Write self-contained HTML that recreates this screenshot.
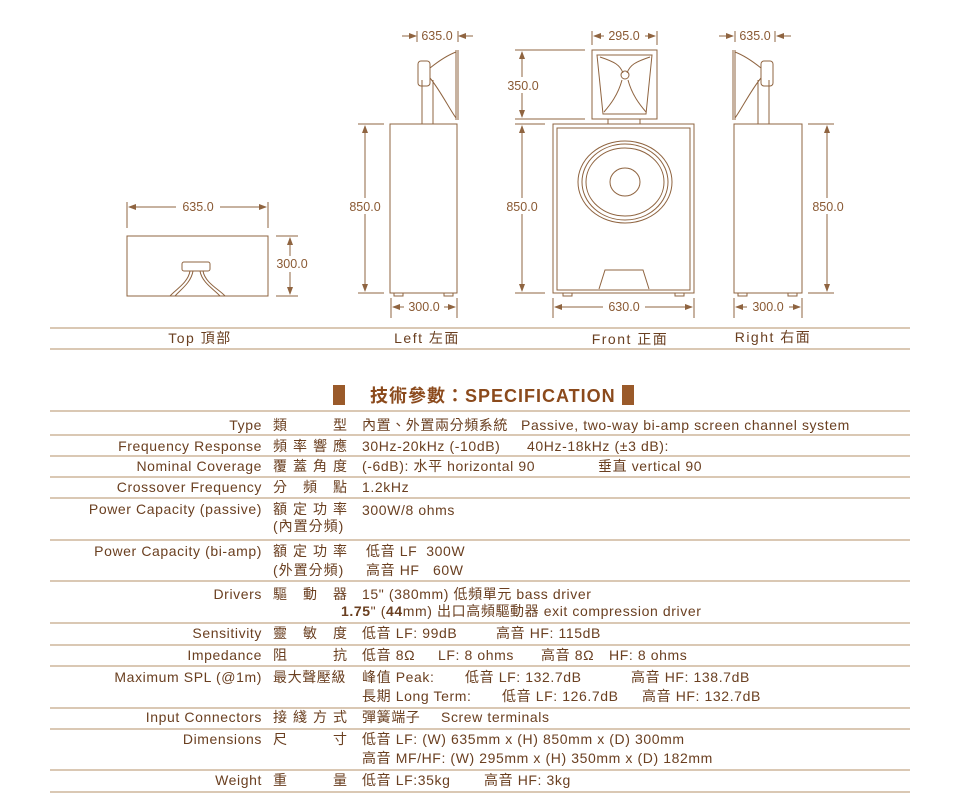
<!DOCTYPE html>
<html><head><meta charset="utf-8"><style>
body{margin:0;background:#fff}
svg{display:block}
text{font-family:"Liberation Sans","Noto Sans CJK TC",sans-serif;fill:#6a3f20;font-size:14px;letter-spacing:0.6px;white-space:pre}
.d{font-size:12.5px;fill:#8a5a34;letter-spacing:0}
.l{fill:none;stroke:#8f6440;stroke-width:1}
.t{stroke:#c4a886;stroke-width:1.2}
</style></head><body>
<svg width="960" height="803" viewBox="0 0 960 803" xmlns="http://www.w3.org/2000/svg" xml:space="preserve">
<defs><marker id="a" markerWidth="8" markerHeight="6" refX="7" refY="3" orient="auto-start-reverse"><path d="M0,0 L8,3 L0,6 z" fill="#8f6440"/></marker></defs>
<rect class="l" x="127" y="236" width="141" height="60"/>
<rect class="l" x="182" y="262" width="28" height="9" rx="2"/>
<path class="l" d="M190,271 C188,283 175,290 170,296 M193,271 C191,283 180,290 175,296 M200,271 C202,283 215,290 220,296 M203,271 C205,283 220,290 225,296"/>
<line class="l" x1="127" y1="202" x2="127" y2="228"/><line class="l" x1="268" y1="202" x2="268" y2="228"/>
<line class="l" x1="129" y1="207" x2="176" y2="207" marker-start="url(#a)"/><line class="l" x1="220" y1="207" x2="266" y2="207" marker-end="url(#a)"/>
<text class="d" x="198" y="211" text-anchor="middle">635.0</text>
<line class="l" x1="276" y1="236" x2="298" y2="236"/><line class="l" x1="276" y1="296" x2="298" y2="296"/>
<line class="l" x1="290" y1="238" x2="290" y2="256" marker-start="url(#a)"/><line class="l" x1="290" y1="272" x2="290" y2="294" marker-end="url(#a)"/>
<text class="d" x="292" y="268" text-anchor="middle">300.0</text>
<rect class="l" x="390" y="124" width="67" height="169"/>
<rect class="l" x="394" y="293" width="9" height="3"/><rect class="l" x="444" y="293" width="9" height="3"/>
<path class="l" d="M422,124 V80 M433,124 V80"/>
<rect class="l" x="418" y="61" width="12" height="25" rx="3"/>
<path class="l" d="M430,68 C440,60 448,55 456,52 M430,78 C440,90 450,110 456,118 M456,50 V120 M458,50 V120"/>
<line class="l" x1="417" y1="31" x2="417" y2="42"/><line class="l" x1="458" y1="31" x2="458" y2="42"/>
<line class="l" x1="402" y1="36" x2="416" y2="36" marker-end="url(#a)"/><line class="l" x1="473" y1="36" x2="459" y2="36" marker-end="url(#a)"/>
<text class="d" x="437" y="40" text-anchor="middle">635.0</text>
<line class="l" x1="358" y1="124" x2="384" y2="124"/><line class="l" x1="358" y1="293" x2="384" y2="293"/>
<line class="l" x1="365" y1="126" x2="365" y2="198" marker-start="url(#a)"/><line class="l" x1="365" y1="214" x2="365" y2="291" marker-end="url(#a)"/>
<text class="d" x="365" y="211" text-anchor="middle">850.0</text>
<line class="l" x1="391" y1="298" x2="391" y2="318"/><line class="l" x1="457" y1="298" x2="457" y2="318"/>
<line class="l" x1="393" y1="307" x2="404" y2="307" marker-start="url(#a)"/><line class="l" x1="444" y1="307" x2="455" y2="307" marker-end="url(#a)"/>
<text class="d" x="424" y="311" text-anchor="middle">300.0</text>
<rect class="l" x="553" y="124" width="141" height="169"/>
<rect class="l" x="557" y="128" width="133" height="162"/>
<rect class="l" x="563" y="293" width="9" height="3"/><rect class="l" x="675" y="293" width="9" height="3"/>
<ellipse class="l" cx="625" cy="182" rx="47" ry="41"/>
<ellipse class="l" cx="625" cy="182" rx="43" ry="38" stroke-width="2"/>
<ellipse class="l" cx="625" cy="182" rx="39" ry="34"/>
<ellipse class="l" cx="625" cy="182" rx="15" ry="14"/>
<path class="l" d="M599,289 L605,270 H643 L649,289"/>
<rect class="l" x="592" y="50" width="65" height="69"/>
<path class="l" d="M597,55 H652 L646,114 H603 Z"/>
<path class="l" d="M600,57 C615,62 620,65 623,73 M650,57 C635,62 630,65 627,73 M622,80 C618,95 610,105 604,112 M628,80 C632,95 640,105 646,112"/>
<circle class="l" cx="625" cy="75" r="4"/>
<rect class="l" x="608" y="119" width="32" height="5"/>
<line class="l" x1="592" y1="31" x2="592" y2="45"/><line class="l" x1="657" y1="31" x2="657" y2="45"/>
<line class="l" x1="594" y1="36" x2="604" y2="36" marker-start="url(#a)"/><line class="l" x1="645" y1="36" x2="655" y2="36" marker-end="url(#a)"/>
<text class="d" x="624" y="40" text-anchor="middle">295.0</text>
<line class="l" x1="515" y1="50" x2="585" y2="50"/><line class="l" x1="515" y1="119" x2="585" y2="119"/>
<line class="l" x1="522" y1="52" x2="522" y2="77" marker-start="url(#a)"/><line class="l" x1="522" y1="93" x2="522" y2="117" marker-end="url(#a)"/>
<text class="d" x="523" y="90" text-anchor="middle">350.0</text>
<line class="l" x1="515" y1="124" x2="545" y2="124"/><line class="l" x1="515" y1="293" x2="545" y2="293"/>
<line class="l" x1="522" y1="126" x2="522" y2="198" marker-start="url(#a)"/><line class="l" x1="522" y1="214" x2="522" y2="291" marker-end="url(#a)"/>
<text class="d" x="522" y="211" text-anchor="middle">850.0</text>
<line class="l" x1="553" y1="298" x2="553" y2="318"/><line class="l" x1="694" y1="298" x2="694" y2="318"/>
<line class="l" x1="555" y1="307" x2="603" y2="307" marker-start="url(#a)"/><line class="l" x1="645" y1="307" x2="692" y2="307" marker-end="url(#a)"/>
<text class="d" x="624" y="311" text-anchor="middle">630.0</text>
<rect class="l" x="734" y="124" width="68" height="169"/>
<rect class="l" x="738" y="293" width="9" height="3"/><rect class="l" x="788" y="293" width="9" height="3"/>
<path class="l" d="M758,124 V80 M769,124 V80"/>
<rect class="l" x="761" y="61" width="12" height="25" rx="3"/>
<path class="l" d="M761,68 C751,60 743,55 735,52 M761,78 C751,90 741,110 735,118 M735,50 V120 M733,50 V120"/>
<line class="l" x1="735" y1="31" x2="735" y2="42"/><line class="l" x1="775" y1="31" x2="775" y2="42"/>
<line class="l" x1="719" y1="36" x2="733" y2="36" marker-end="url(#a)"/><line class="l" x1="791" y1="36" x2="777" y2="36" marker-end="url(#a)"/>
<text class="d" x="755" y="40" text-anchor="middle">635.0</text>
<line class="l" x1="808" y1="124" x2="834" y2="124"/><line class="l" x1="808" y1="293" x2="834" y2="293"/>
<line class="l" x1="827" y1="126" x2="827" y2="198" marker-start="url(#a)"/><line class="l" x1="827" y1="214" x2="827" y2="291" marker-end="url(#a)"/>
<text class="d" x="828" y="211" text-anchor="middle">850.0</text>
<line class="l" x1="734" y1="298" x2="734" y2="318"/><line class="l" x1="802" y1="298" x2="802" y2="318"/>
<line class="l" x1="736" y1="307" x2="747" y2="307" marker-start="url(#a)"/><line class="l" x1="789" y1="307" x2="800" y2="307" marker-end="url(#a)"/>
<text class="d" x="768" y="311" text-anchor="middle">300.0</text>
<line class="t" x1="50" y1="328" x2="910" y2="328"/><line class="t" x1="50" y1="349" x2="910" y2="349"/>
<text x="200" y="343" text-anchor="middle" style="letter-spacing:1.5px">Top 頂部</text>
<text x="427" y="343" text-anchor="middle" style="letter-spacing:1.5px">Left 左面</text>
<text x="630" y="344" text-anchor="middle" style="letter-spacing:1.5px">Front 正面</text>
<text x="773" y="342" text-anchor="middle" style="letter-spacing:1.5px">Right 右面</text>
<rect x="333" y="385" width="12" height="20" fill="#9a5a2a"/><rect x="622" y="385" width="12" height="20" fill="#9a5a2a"/>
<text x="370" y="402" style="font-size:18px;font-weight:bold;fill:#8b4a1c;letter-spacing:1px">技術參數：SPECIFICATION</text>
<g class="t">
<line x1="50" y1="411" x2="910" y2="411"/><line x1="50" y1="435" x2="910" y2="435"/><line x1="50" y1="456" x2="910" y2="456"/><line x1="50" y1="477" x2="910" y2="477"/><line x1="50" y1="498" x2="910" y2="498"/><line x1="50" y1="540" x2="910" y2="540"/><line x1="50" y1="581" x2="910" y2="581"/><line x1="50" y1="623" x2="910" y2="623"/><line x1="50" y1="645" x2="910" y2="645"/><line x1="50" y1="666" x2="910" y2="666"/><line x1="50" y1="708" x2="910" y2="708"/><line x1="50" y1="729" x2="910" y2="729"/><line x1="50" y1="770" x2="910" y2="770"/><line x1="50" y1="792" x2="910" y2="792"/>
</g>
<g text-anchor="end">
<text x="262" y="430">Type</text><text x="262" y="451">Frequency Response</text><text x="262" y="471">Nominal Coverage</text><text x="262" y="492">Crossover Frequency</text><text x="262" y="514">Power Capacity (passive)</text><text x="262" y="556">Power Capacity (bi-amp)</text><text x="262" y="599">Drivers</text><text x="262" y="638">Sensitivity</text><text x="262" y="660">Impedance</text><text x="262" y="682">Maximum SPL (@1m)</text><text x="262" y="722">Input Connectors</text><text x="262" y="744">Dimensions</text><text x="262" y="785">Weight</text>
</g>
<g>
<text x="273 333" y="430">類型</text>
<text x="273 293 313 333" y="451">頻率響應</text>
<text x="273 293 313 333" y="471">覆蓋角度</text>
<text x="273 303 333" y="492">分頻點</text>
<text x="273 293 313 333" y="514">額定功率</text><text x="273" y="531" style="letter-spacing:1px">(內置分頻)</text>
<text x="273 293 313 333" y="556">額定功率</text><text x="273" y="575" style="letter-spacing:1px">(外置分頻)</text>
<text x="273 303 333" y="599">驅動器</text>
<text x="273 303 333" y="638">靈敏度</text>
<text x="273 333" y="660">阻抗</text>
<text x="273" y="682">最大聲壓級</text>
<text x="273 293 313 333" y="722">接綫方式</text>
<text x="273 333" y="744">尺寸</text>
<text x="273 333" y="785">重量</text>
</g>
<g>
<text x="362" y="430">內置、外置兩分頻系統</text><text x="521" y="430">Passive, two-way bi-amp screen channel system</text>
<text x="362" y="451">30Hz-20kHz (-10dB)</text><text x="527" y="451">40Hz-18kHz (±3 dB):</text>
<text x="362" y="471">(-6dB): 水平 horizontal 90</text><text x="598" y="471">垂直 vertical 90</text>
<text x="362" y="492">1.2kHz</text>
<text x="362" y="515">300W/8 ohms</text>
<text x="366" y="556">低音 LF  300W</text><text x="366" y="575">高音 HF   60W</text>
<text x="362" y="599">15" (380mm) 低頻單元 bass driver</text>
<text x="341" y="616"><tspan font-weight="bold">1.75</tspan>" (<tspan font-weight="bold">44</tspan>mm) 出口高頻驅動器 exit compression driver</text>
<text x="362" y="638">低音 LF: 99dB</text><text x="496" y="638">高音 HF: 115dB</text>
<text x="362" y="660">低音 8Ω</text><text x="438" y="660">LF: 8 ohms</text><text x="541" y="660">高音 8Ω</text><text x="609" y="660">HF: 8 ohms</text>
<text x="362" y="682">峰值 Peak:</text><text x="465" y="682">低音 LF: 132.7dB</text><text x="631" y="682">高音 HF: 138.7dB</text>
<text x="362" y="701">長期 Long Term:</text><text x="502" y="701">低音 LF: 126.7dB</text><text x="642" y="701">高音 HF: 132.7dB</text>
<text x="362" y="722">彈簧端子</text><text x="441" y="722">Screw terminals</text>
<text x="362" y="744">低音 LF: (W) 635mm x (H) 850mm x (D) 300mm</text>
<text x="362" y="763">高音 MF/HF: (W) 295mm x (H) 350mm x (D) 182mm</text>
<text x="362" y="785">低音 LF:35kg</text><text x="484" y="785">高音 HF: 3kg</text>
</g>
</svg>
</body></html>
